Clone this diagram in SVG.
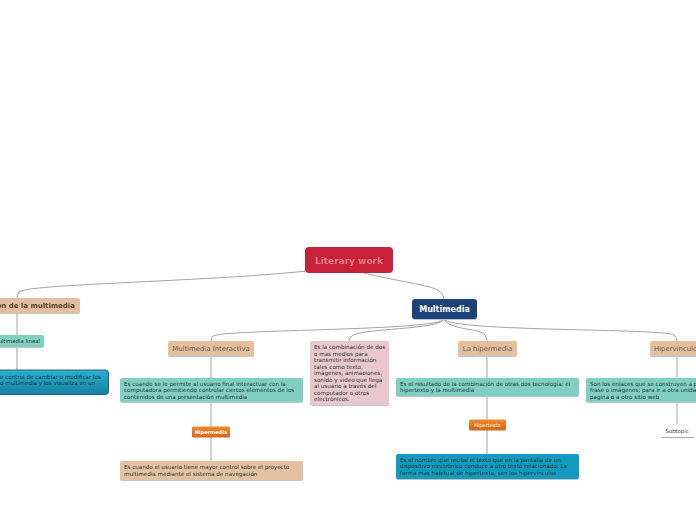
<svg xmlns="http://www.w3.org/2000/svg" width="696" height="520" viewBox="0 0 696 520">
<defs>
<linearGradient id="gBlue" x1="0" y1="0" x2="0" y2="1"><stop offset="0" stop-color="#2bb0cf"/><stop offset="1" stop-color="#1680a3"/></linearGradient>
<linearGradient id="gOr" x1="0" y1="0" x2="0" y2="1"><stop offset="0" stop-color="#ee8a2e"/><stop offset="1" stop-color="#d2661a"/></linearGradient>
<style>
text{font-family:"DejaVu Sans","Verdana",sans-serif}
.sh{fill:#c4c4c4}
.beige{fill:#e4bf9d}
.teal{fill:#80cfc2}
.hdr{font-size:6.9px;fill:#6d5d50}
.body{font-size:5.6px;fill:#1d3a38}
.conn{fill:none;stroke:#a3a3a3;stroke-width:1}
.or{font-size:5px;fill:#fff;font-weight:bold;text-anchor:middle}
</style>
</defs>
<rect width="696" height="520" fill="#ffffff"/>
<g id="connectors">
<path class="conn" d="M307 271 C200 282 25 284 19 292 Q17 295 17 298" stroke-width="1.4"/>
<path class="conn" d="M360 272 C390 280 425 284 438 290 Q444 294 444 299" stroke-width="1.4"/>
<path class="conn" d="M444 319 C440 331 225 329 213 336 Q211 338 211 341"/>
<path class="conn" d="M444 319 C440 330 360 328 352 336 Q349 338 349 341"/>
<path class="conn" d="M444 319 C448 330 480 328 485 335 Q487 338 487 341"/>
<path class="conn" d="M444 319 C450 332 665 328 674 335 Q677 338 677 341"/>
<path class="conn" d="M17 313 V336 M17 347 V370"/>
<path class="conn" d="M211 356 V378 M211 402 V427 M211 437 V461"/>
<path class="conn" d="M487 356 V378 M487 396 V420 M487 430 V454"/>
<path class="conn" d="M677 356 V378 M677 402 V424"/>
</g>
<g id="literary-work">
<rect x="305" y="247" width="88" height="26" rx="4" fill="#c8213a"/>
<text x="349" y="264" text-anchor="middle" font-size="9px" font-weight="bold" fill="#e8798a">Literary work</text>
</g>
<g id="multimedia">
<rect x="412" y="300" width="65" height="20" rx="3" class="sh"/>
<rect x="412" y="299" width="65" height="20" rx="3" fill="#1c427a"/>
<text x="444.5" y="312" text-anchor="middle" font-size="8px" font-weight="bold" fill="#ffffff">Multimedia</text>
</g>
<g id="clasificacion">
<rect x="-5" y="299" width="85" height="15" rx="2" class="sh"/>
<rect x="-5" y="298" width="85" height="15" rx="2" class="beige"/>
<text x="75" y="308" text-anchor="end" font-size="7px" font-weight="bold" fill="#5b4330">on de la multimedia</text>
</g>
<g id="multimedia-lineal">
<rect x="-5" y="336" width="49" height="12" rx="2" class="sh"/>
<rect x="-5" y="335" width="49" height="12" rx="2" class="teal"/>
<text x="40" y="343" text-anchor="end" font-size="5.4px" fill="#1d3a38">ultimedia lineal</text>
</g>
<g id="lineal-desc">
<rect x="-10" y="370" width="118.5" height="24.5" rx="3" fill="url(#gBlue)" stroke="#2a6276" stroke-width="1"/>
<text class="body" fill="#0d2a3a"><tspan x="0" y="378.5">e control de cambiar o modificar los</tspan><tspan x="0" y="385">o multimedia y los visualiza en un</tspan></text>
</g>
<g id="multimedia-interactiva">
<rect x="168" y="342" width="86" height="15" rx="2" class="sh"/>
<rect x="168" y="341" width="86" height="15" rx="2" class="beige"/>
<text x="211" y="351" text-anchor="middle" class="hdr">Multimedia Interactiva</text>
</g>
<g id="interactiva-desc">
<rect x="120" y="379" width="183" height="24" rx="2" class="sh"/>
<rect x="120" y="378" width="183" height="24" rx="2" class="teal"/>
<text class="body"><tspan x="124" y="385.5">Es cuando se le permite al usuario final interactuar con la</tspan><tspan x="124" y="392">computadora permitiendo controlar ciertos elementos de los</tspan><tspan x="124" y="398.5">contenidos de una presentación multimedia</tspan></text>
</g>
<g id="hipermedia">
<rect x="192" y="426.5" width="38" height="11" rx="1.5" fill="url(#gOr)"/>
<text x="211" y="434" class="or">Hipermedia</text>
</g>
<g id="hipermedia-desc">
<rect x="120" y="462" width="183" height="19" rx="2" class="sh"/>
<rect x="120" y="461" width="183" height="19" rx="2" fill="#e4c1a1"/>
<text class="body" fill="#5b4a3c"><tspan x="124" y="469">Es cuando el usuario tiene mayor control sobre el proyecto</tspan><tspan x="124" y="475.5">multimedia mediante el sistema de navegación</tspan></text>
</g>
<g id="definicion">
<rect x="310" y="342" width="79" height="64" rx="2" class="sh"/>
<rect x="310" y="341" width="79" height="64" rx="2" fill="#e9c7cc"/>
<text class="body" fill="#7b2434"><tspan x="314" y="349">Es la combinación de dos</tspan><tspan x="314" y="355.5">o mas medios para</tspan><tspan x="314" y="362">transmitir información</tspan><tspan x="314" y="368.5">tales como texto,</tspan><tspan x="314" y="375">imágenes, animaciones,</tspan><tspan x="314" y="381.5">sonido y video que llega</tspan><tspan x="314" y="388">al usuario a través del</tspan><tspan x="314" y="394.5">computador o otros</tspan><tspan x="314" y="401">electrónicos.</tspan></text>
</g>
<g id="la-hipermedia">
<rect x="458" y="342" width="59" height="15" rx="2" class="sh"/>
<rect x="458" y="341" width="59" height="15" rx="2" class="beige"/>
<text x="487.5" y="351" text-anchor="middle" class="hdr">La hipermedia</text>
</g>
<g id="la-hipermedia-desc">
<rect x="396" y="379" width="183" height="18" rx="2" class="sh"/>
<rect x="396" y="378" width="183" height="18" rx="2" class="teal"/>
<text class="body"><tspan x="400" y="385.5">Es el resultado de la combinación de otras dos tecnología: el</tspan><tspan x="400" y="392">hipertexto y la multimedia</tspan></text>
</g>
<g id="hipertexto">
<rect x="469" y="419.5" width="37" height="11" rx="1.5" fill="url(#gOr)"/>
<text x="487.5" y="427" class="or" style="font-weight:normal">Hipertexto</text>
</g>
<g id="hipertexto-desc">
<rect x="396" y="455" width="183" height="25" rx="2" class="sh"/>
<rect x="396" y="454" width="183" height="25" rx="2" fill="#159abf"/>
<text class="body" fill="#0b2a3c"><tspan x="400" y="461.5">Es el nombre que recibe el texto que en la pantalla de un</tspan><tspan x="400" y="468">dispositivo electrónico conduce a otro texto relacionado. La</tspan><tspan x="400" y="474.5">forma mas habitual de hipertexto, son los hipervínculos</tspan></text>
</g>
<g id="hipervinculo">
<rect x="650" y="342" width="60" height="15" rx="2" class="sh"/>
<rect x="650" y="341" width="60" height="15" rx="2" class="beige"/>
<text x="654" y="351" class="hdr">Hipervínculo</text>
</g>
<g id="hipervinculo-desc">
<rect x="586" y="379" width="120" height="24" rx="2" class="sh"/>
<rect x="586" y="378" width="120" height="24" rx="2" class="teal"/>
<text class="body"><tspan x="590" y="385.5">Son los enlaces que se construyen a p</tspan><tspan x="590" y="392">frase o imágenes; para ir a otra unida</tspan><tspan x="590" y="398.5">pagina o a otro sitio web</tspan></text>
</g>
<g id="subtopic">
<text x="677" y="433" text-anchor="middle" font-size="5.3px" fill="#333333">Subtopic</text>
<line x1="661" y1="437.5" x2="694" y2="437.5" stroke="#aaaaaa" stroke-width="1"/>
</g>
</svg>
